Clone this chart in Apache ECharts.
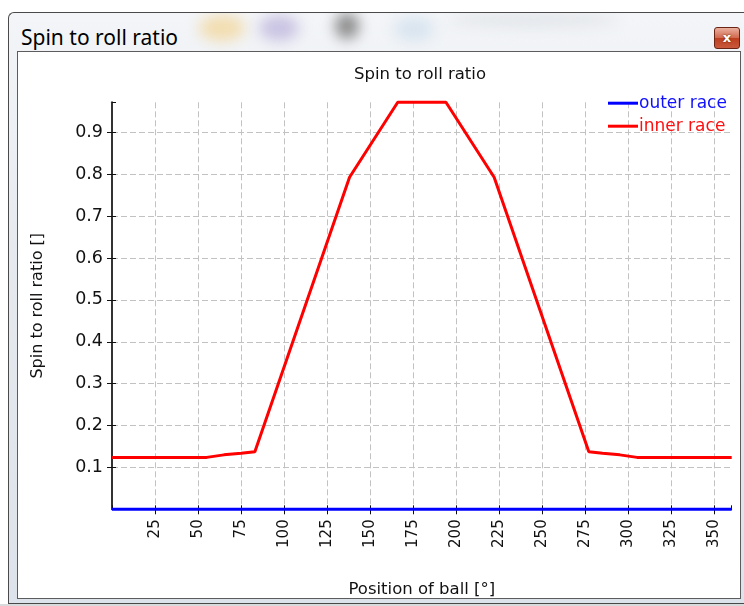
<!DOCTYPE html>
<html><head><meta charset="utf-8">
<script src="https://cdn.jsdelivr.net/npm/echarts@6/dist/echarts.min.js"></script>
<style>
html,body{margin:0;padding:0;width:744px;height:606px;overflow:hidden;background:#ffffff;}
#win{position:absolute;left:8px;top:12px;width:744px;height:592px;background:linear-gradient(#f3f5f8,#e6eaef 40%,#dde3ea);border:1px solid #4a4a4a;border-right:none;border-radius:6px 0 0 0;box-sizing:border-box;overflow:hidden;}
.blob{position:absolute;filter:blur(7px);border-radius:50%;}
#wtitle{position:absolute;left:12px;top:10px;font-family:"Noto Sans",sans-serif;font-size:21px;line-height:28px;color:#000;white-space:nowrap;}
#close{position:absolute;left:705px;top:14px;width:26px;height:22px;border:1px solid #6b2414;border-radius:3px;box-sizing:border-box;background:linear-gradient(#eab09f,#d26a50 48%,#bd3f1f 52%,#c9583c);color:#fff;font:bold 13px "DejaVu Sans",sans-serif;text-align:center;line-height:19px;text-shadow:0 0 2px #5a1a0a;}
#clientBorder{position:absolute;left:17px;top:51px;width:724px;height:548px;border:1px solid #5c5c5c;box-sizing:border-box;background:#fff;}
#chart{position:absolute;left:18px;top:52px;width:722px;height:546px;}
#bottomStrip{position:absolute;left:0;top:604px;width:744px;height:2px;background:#d8dadc;}
</style>
</head><body>
<div id="win">
  <div class="blob" style="left:190px;top:2px;width:46px;height:26px;background:#f2ddb0;"></div>
  <div class="blob" style="left:250px;top:2px;width:40px;height:26px;background:#c9c3e2;"></div>
  <div class="blob" style="left:326px;top:0px;width:24px;height:26px;background:#8a8a8a;"></div>
  <div class="blob" style="left:385px;top:4px;width:40px;height:24px;background:#d8e4ef;"></div>
  <div class="blob" style="left:440px;top:0px;width:170px;height:14px;background:#e2e5e9;"></div>
  <div id="wtitle">Spin to roll ratio</div>
  <div id="close">x</div>
</div>
<div id="clientBorder"></div>
<div id="chart"></div>
<div id="bottomStrip"></div>
<script>
// ---- data ----
const chartTitle = 'Spin to roll ratio';
const xAxisName = 'Position of ball [°]';
const yAxisName = 'Spin to roll ratio []';
const seriesNames = ['outer race', 'inner race'];
const outerX = [0, 360];
const outerY = [0, 0];
const innerX = [0, 55, 65, 75, 83, 138, 166, 194, 222, 277, 285, 295, 305, 360];
const innerY = [0.124, 0.124, 0.130, 0.134, 0.1375, 0.793, 0.972, 0.972, 0.793, 0.1375, 0.134, 0.130, 0.124, 0.124];
const xMin = 0, xMax = 360, xStep = 25;
const yMin = 0, yMax = 0.972, yStep = 0.1;

const pairs = (xs, ys) => xs.map((x, i) => [x, ys[i]]);
const font = '"DejaVu Sans", Verdana, sans-serif';
const gridColor = '#c2c2c2';

const chart = echarts.init(document.getElementById('chart'), null, {renderer: 'canvas'});
const baseX = {
  type: 'value', min: xMin, max: xMax, interval: xStep, position: 'bottom'
};
const baseY = {
  type: 'value', min: yMin, max: yMax, interval: yStep, position: 'left'
};
chart.setOption({
  animation: false,
  backgroundColor: '#ffffff',
  title: {
    text: chartTitle, left: 402, top: 14, padding: 0, textAlign: 'center',
    textStyle: {fontFamily: font, fontSize: 16.5, fontWeight: 'normal', color: '#111'}
  },
  legend: {
    orient: 'vertical', left: 590, top: 37.7, itemGap: -4, padding: 0,
    itemWidth: 30, itemHeight: 3, icon: 'rect',
    textStyle: {fontFamily: font, fontSize: 17, lineHeight: 19, padding: [8, 0, 0, -4]},
    data: [
      {name: seriesNames[0], textStyle: {color: '#1010ff'}},
      {name: seriesNames[1], textStyle: {color: '#ff1010'}}
    ]
  },
  grid: {left: 94, width: 619.7, top: 50.3, height: 407, containLabel: false, outerBoundsMode: 'none'},
  xAxis: [
    Object.assign({}, baseX, {
      name: xAxisName, nameLocation: 'middle', nameGap: 72,
      nameTextStyle: {fontFamily: font, fontSize: 16.5, color: '#111'},
      axisLine: {show: true, onZero: false, lineStyle: {color: '#222', width: 1}},
      axisTick: {show: true, inside: false, length: 5, lineStyle: {color: '#111'}},
      axisLabel: {rotate: 90, margin: 10, showMinLabel: false, showMaxLabel: false,
        fontFamily: font, fontSize: 15, color: '#111'},
      splitLine: {show: true, showMinLine: false, showMaxLine: false,
        lineStyle: {color: gridColor, type: [6, 3], width: 1}}
    }),
    Object.assign({}, baseX, {
      axisLine: {show: false, onZero: false},
      axisTick: {show: true, inside: true, length: 4, lineStyle: {color: '#111'}},
      axisLabel: {show: false, showMinLabel: false, showMaxLabel: false},
      splitLine: {show: false}
    })
  ],
  yAxis: [
    Object.assign({}, baseY, {
      name: yAxisName, nameLocation: 'middle', nameGap: 66,
      nameTextStyle: {fontFamily: font, fontSize: 16, color: '#111'},
      axisLine: {show: true, onZero: false, lineStyle: {color: '#333', width: 2}},
      axisTick: {show: true, inside: false, length: 5, lineStyle: {color: '#111'}},
      axisLabel: {margin: 9, showMinLabel: false, showMaxLabel: false,
        formatter: v => v.toFixed(1), fontFamily: font, fontSize: 17.5, color: '#111'},
      splitLine: {show: true, showMinLine: false, showMaxLine: false,
        lineStyle: {color: gridColor, type: [6, 3], width: 1}}
    }),
    Object.assign({}, baseY, {
      axisLine: {show: false, onZero: false},
      axisTick: {show: true, inside: true, length: 4, lineStyle: {color: '#111'}},
      axisLabel: {show: false, showMinLabel: false, showMaxLabel: false},
      splitLine: {show: false}
    })
  ],
  series: [
    {
      name: seriesNames[0], type: 'line', data: pairs(outerX, outerY),
      xAxisIndex: 0, yAxisIndex: 0, showSymbol: false, symbol: 'none', clip: false,
      color: '#0000ff', lineStyle: {color: '#0000ff', width: 3}
    },
    {
      name: seriesNames[1], type: 'line', data: pairs(innerX, innerY),
      xAxisIndex: 0, yAxisIndex: 0, showSymbol: false, symbol: 'none', clip: false,
      color: '#ff0000', lineStyle: {color: '#ff0000', width: 3}
    }
  ]
});
</script>
</body></html>
